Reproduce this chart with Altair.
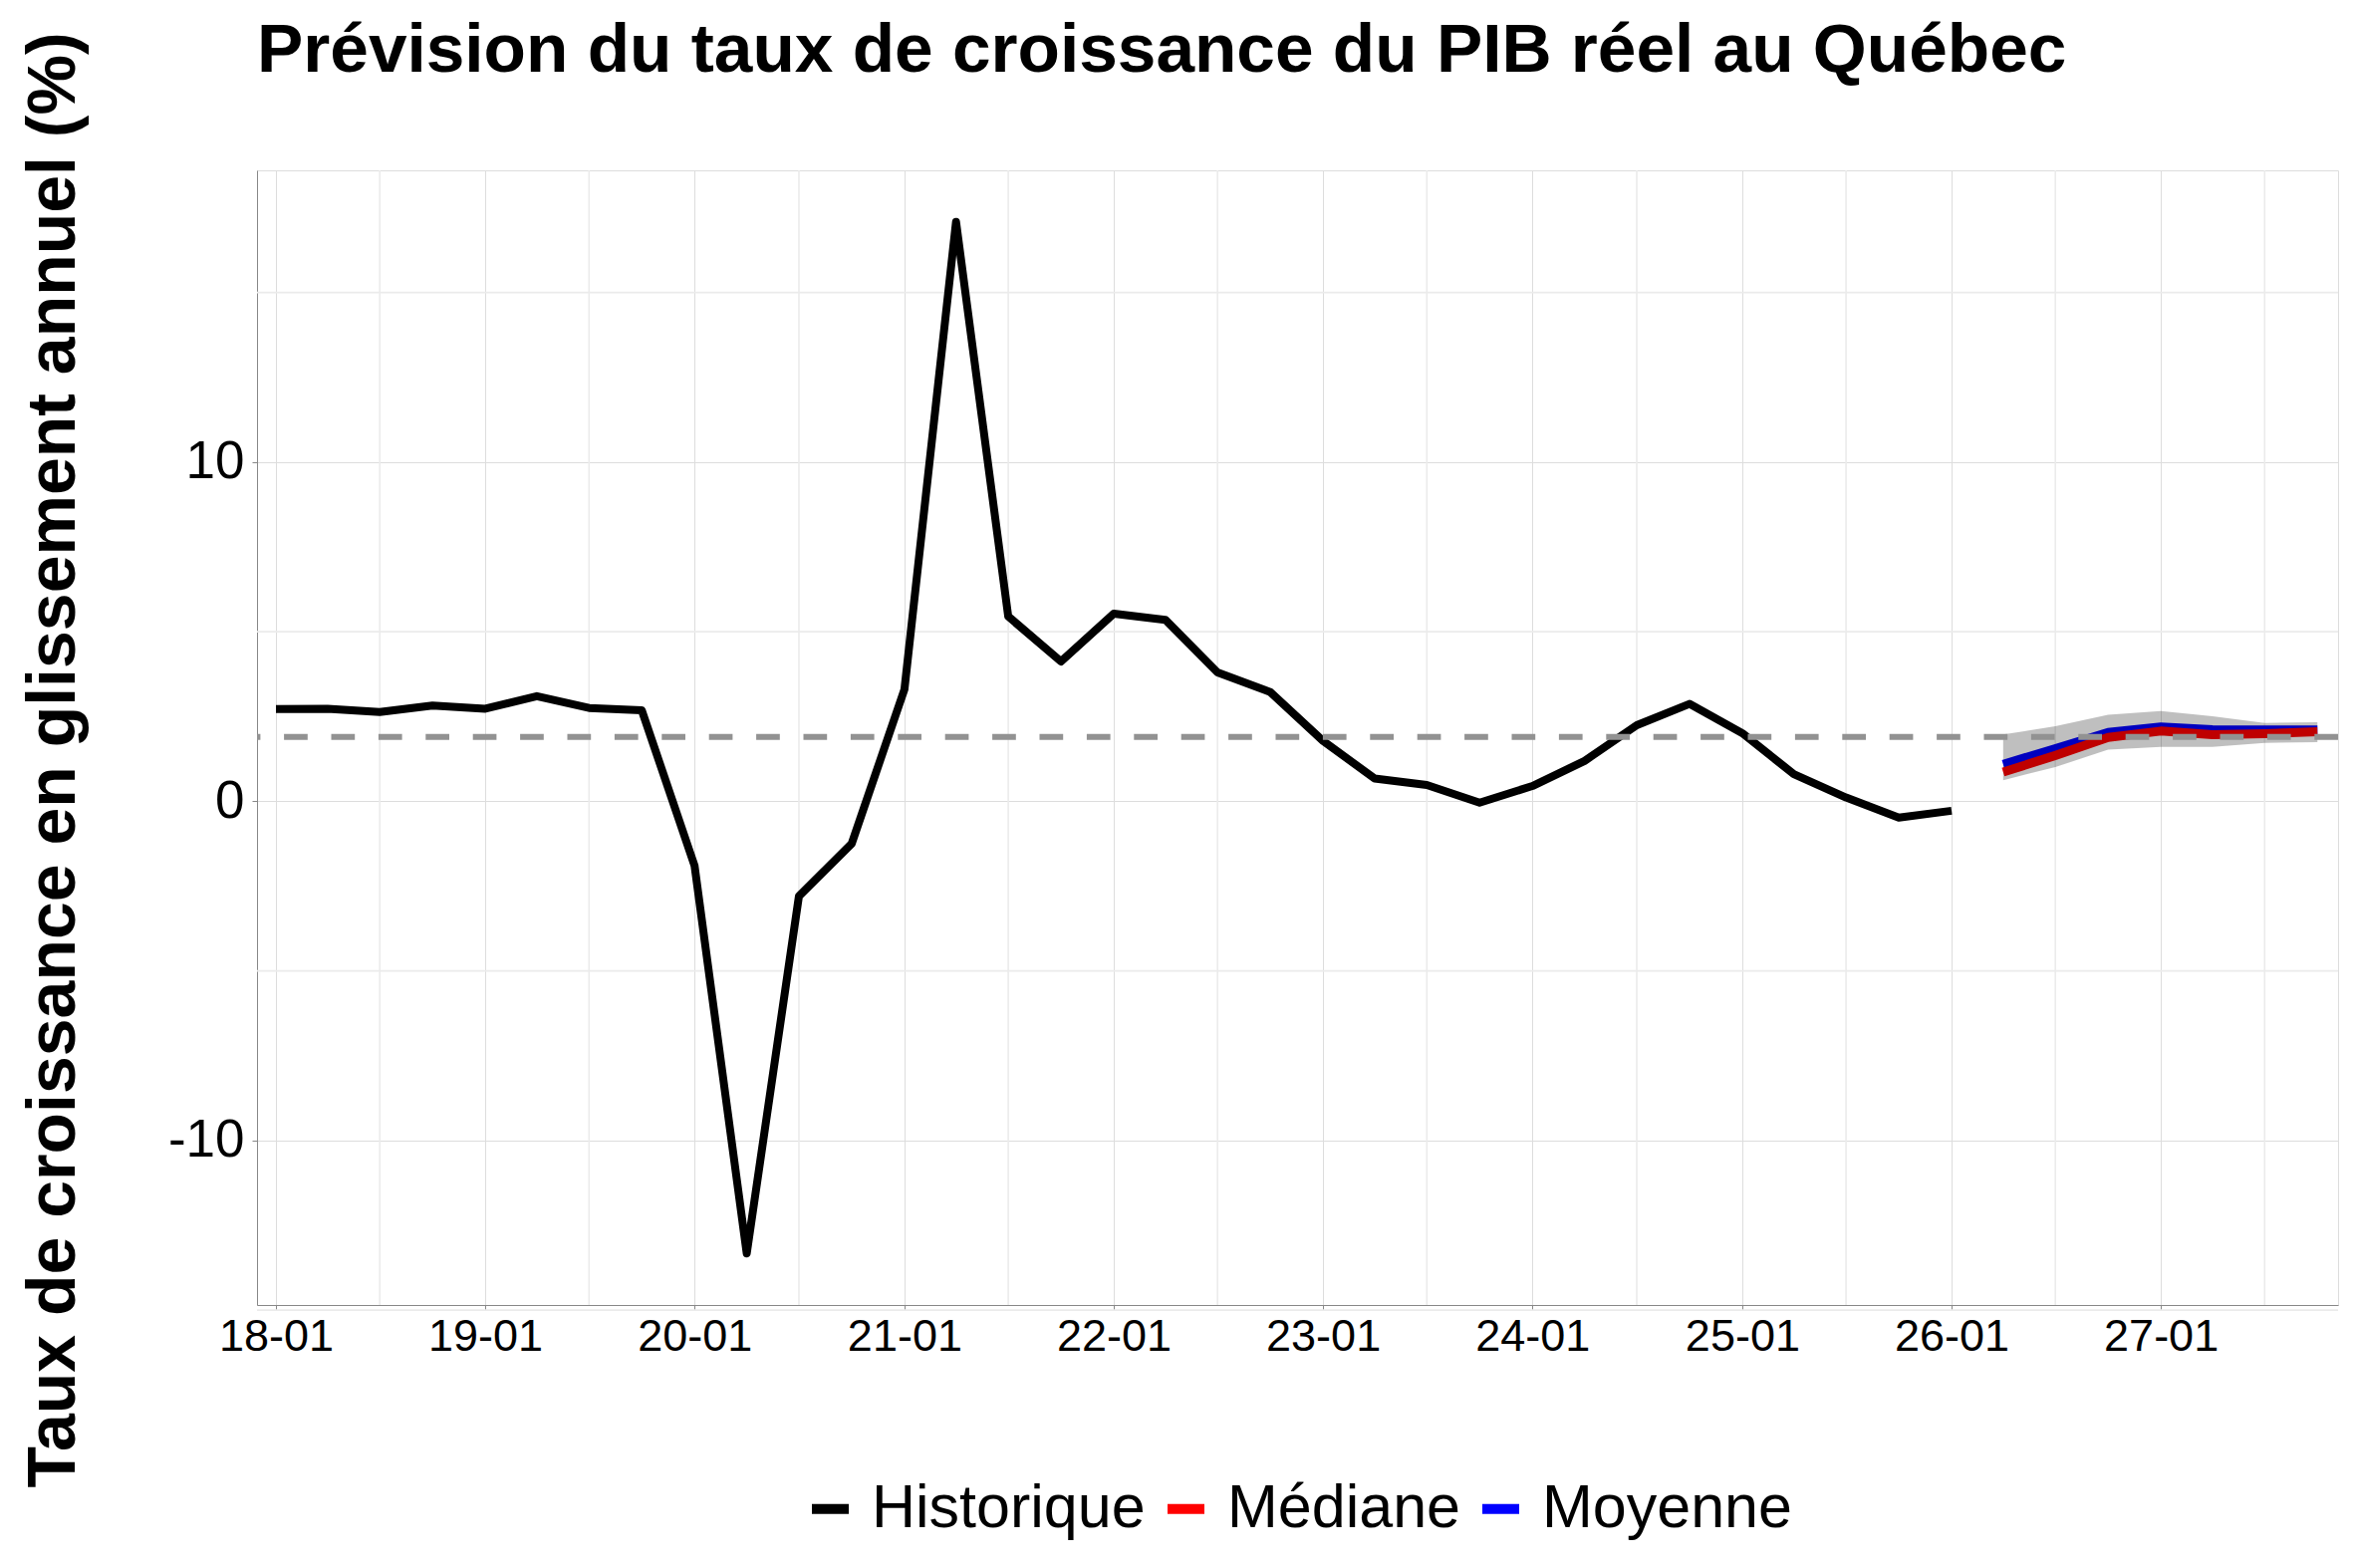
import altair as alt
import pandas as pd

# ---------------- data ----------------
hist_dates = [
    "2018-01-01", "2018-04-01", "2018-07-01", "2018-10-01",
    "2019-01-01", "2019-04-01", "2019-07-01", "2019-10-01",
    "2020-01-01", "2020-04-01", "2020-07-01", "2020-10-01",
    "2021-01-01", "2021-04-01", "2021-07-01", "2021-10-01",
    "2022-01-01", "2022-04-01", "2022-07-01", "2022-10-01",
    "2023-01-01", "2023-04-01", "2023-07-01", "2023-10-01",
    "2024-01-01", "2024-04-01", "2024-07-01", "2024-10-01",
    "2025-01-01", "2025-04-01", "2025-07-01", "2025-10-01",
    "2026-01-01",
]
hist_values = [
    2.72, 2.73, 2.63, 2.82,
    2.73, 3.10, 2.75, 2.68,
    -1.9, -13.33, -2.8, -1.25,
    3.3, 17.08, 5.45, 4.12,
    5.53, 5.35, 3.8, 3.22,
    1.78, 0.67, 0.48, -0.04,
    0.45, 1.19, 2.24, 2.87,
    2.01, 0.80, 0.11, -0.48,
    -0.28,
]

fc_dates = ["2026-04-01", "2026-07-01", "2026-10-01", "2027-01-01",
            "2027-04-01", "2027-07-01", "2027-10-01"]
median_values = [0.86, 1.35, 1.88, 2.07, 1.96, 1.99, 2.05]
mean_values = [1.09, 1.55, 2.03, 2.19, 2.11, 2.10, 2.10]
band_low = [0.62, 1.01, 1.52, 1.60, 1.60, 1.72, 1.74]
band_high = [1.97, 2.21, 2.55, 2.66, 2.51, 2.31, 2.33]

target_rate = [1.9]

series_names = ["Historique", "Médiane", "Moyenne"]
series_colors = ["#000000", "#ff0000", "#0000ff"]

major_years = [2018, 2019, 2020, 2021, 2022, 2023, 2024, 2025, 2026, 2027]
minor_x_dates = ["2018-07-01", "2019-07-01", "2020-07-01", "2021-07-01",
                 "2022-07-01", "2023-07-01", "2024-07-01", "2025-07-01",
                 "2026-07-01", "2027-07-01"]
y_major = [-10, 0, 10]
y_minor = [-15, -5, 5, 15]

title_text = "Prévision du taux de croissance du PIB réel au Québec"
y_title = "Taux de croissance en glissement annuel (%)"

# ---------------- frames ----------------
hist_df = pd.DataFrame({"date": hist_dates, "value": hist_values,
                        "serie": ["Historique"] * len(hist_dates)})
med_df = pd.DataFrame({"date": fc_dates, "value": median_values,
                       "serie": ["Médiane"] * len(fc_dates)})
mean_df = pd.DataFrame({"date": fc_dates, "value": mean_values,
                        "serie": ["Moyenne"] * len(fc_dates)})
band_df = pd.DataFrame({"date": fc_dates, "low": band_low, "high": band_high})
target_df = pd.DataFrame({"y": target_rate})
minor_x_df = pd.DataFrame({"date": minor_x_dates})
minor_y_df = pd.DataFrame({"y": y_minor})
title_df = pd.DataFrame({"t": [title_text]})

W, H = 2089, 1139
FONT = "Liberation Sans"

x_scale = alt.Scale(
    type="utc",
    domain=[alt.DateTime(year=2017, month=11, date=29, utc=True),
            alt.DateTime(year=2027, month=11, date=6, utc=True)],
    nice=False,
)
y_scale = alt.Scale(domain=[-14.85, 18.6], nice=False, zero=False)

x_axis = alt.Axis(
    title=None,
    values=[alt.DateTime(year=y, month=1, date=1, utc=True) for y in major_years],
    format="%y-%m",
    labelFontSize=45,
    labelPadding=4,
)
y_axis = alt.Axis(
    values=y_major,
    labelExpr="'' + datum.value",
    title=y_title,
    labelFontSize=53,
    labelPadding=8,
    titleFontSize=68,
    titleFont=FONT,
    titleFontWeight="bold",
    titleColor="#000000",
    titleAngle=270,
    titleAlign="center",
    titleBaseline="alphabetic",
    titleX=-184,
    titleY=H / 2 + 22,
)

color_scale = alt.Scale(domain=series_names, range=series_colors)
legend = alt.Legend(
    title=None,
    orient="none",
    legendX=545,
    legendY=1313,
    direction="horizontal",
    symbolType="stroke",
    symbolStrokeWidth=10,
    symbolSize=1369,
    labelFontSize=61,
    labelFont=FONT,
    labelColor="#000000",
    labelLimit=0,
    labelOffset=11,
    columnPadding=2,
    padding=0,
)

base_x = alt.X("date:T", scale=x_scale, axis=x_axis)
base_y = alt.Y("value:Q", scale=y_scale, axis=y_axis)

minor_x = alt.Chart(minor_x_df).mark_rule(color="#ebebeb", strokeWidth=1.6).encode(
    x=alt.X("date:T", scale=x_scale, axis=x_axis)
)
minor_y = alt.Chart(minor_y_df).mark_rule(color="#ebebeb", strokeWidth=1.6).encode(
    y=alt.Y("y:Q", scale=y_scale, axis=y_axis)
)

def line_layer(df, width):
    return alt.Chart(df).mark_line(strokeWidth=width, strokeJoin="round", strokeCap="butt").encode(
        x=base_x,
        y=base_y,
        color=alt.Color("serie:N", scale=color_scale, legend=legend),
    )

hist_line = line_layer(hist_df, 8)
mean_line = line_layer(mean_df, 9)
med_line = line_layer(med_df, 9)

band = alt.Chart(band_df).mark_area(color="#000000", opacity=0.25).encode(
    x=base_x,
    y=alt.Y("low:Q", scale=y_scale, axis=y_axis),
    y2="high:Q",
)

target = alt.Chart(target_df).mark_rule(color="#929292", strokeWidth=6, strokeDash=[23.7, 23.7]).encode(
    y=alt.Y("y:Q", scale=y_scale, axis=y_axis)
)

title_mark = alt.Chart(title_df).mark_text(
    align="left", baseline="alphabetic", font=FONT, fontSize=69.4,
    fontWeight="bold", color="#000000",
).encode(
    x=alt.value(0), y=alt.value(-99), text="t:N"
)

chart = alt.layer(minor_x, minor_y, hist_line, mean_line, med_line, band, target, title_mark).properties(
    width=W,
    height=H,
    autosize=alt.AutoSizeParams(type="none"),
    padding={"left": 250, "top": 163, "right": 7, "bottom": 256},
).configure_view(
    stroke="#333333", strokeWidth=2.5
).configure_axis(
    grid=True,
    gridColor="#ebebeb",
    gridWidth=3.2,
    domain=False,
    tickColor="#333333",
    tickSize=8,
    tickWidth=2,
    labelFont=FONT,
    labelColor="#4d4d4d",
).configure(background="white")

chart.save("out.html", embed_options={"renderer": "svg", "actions": False})
